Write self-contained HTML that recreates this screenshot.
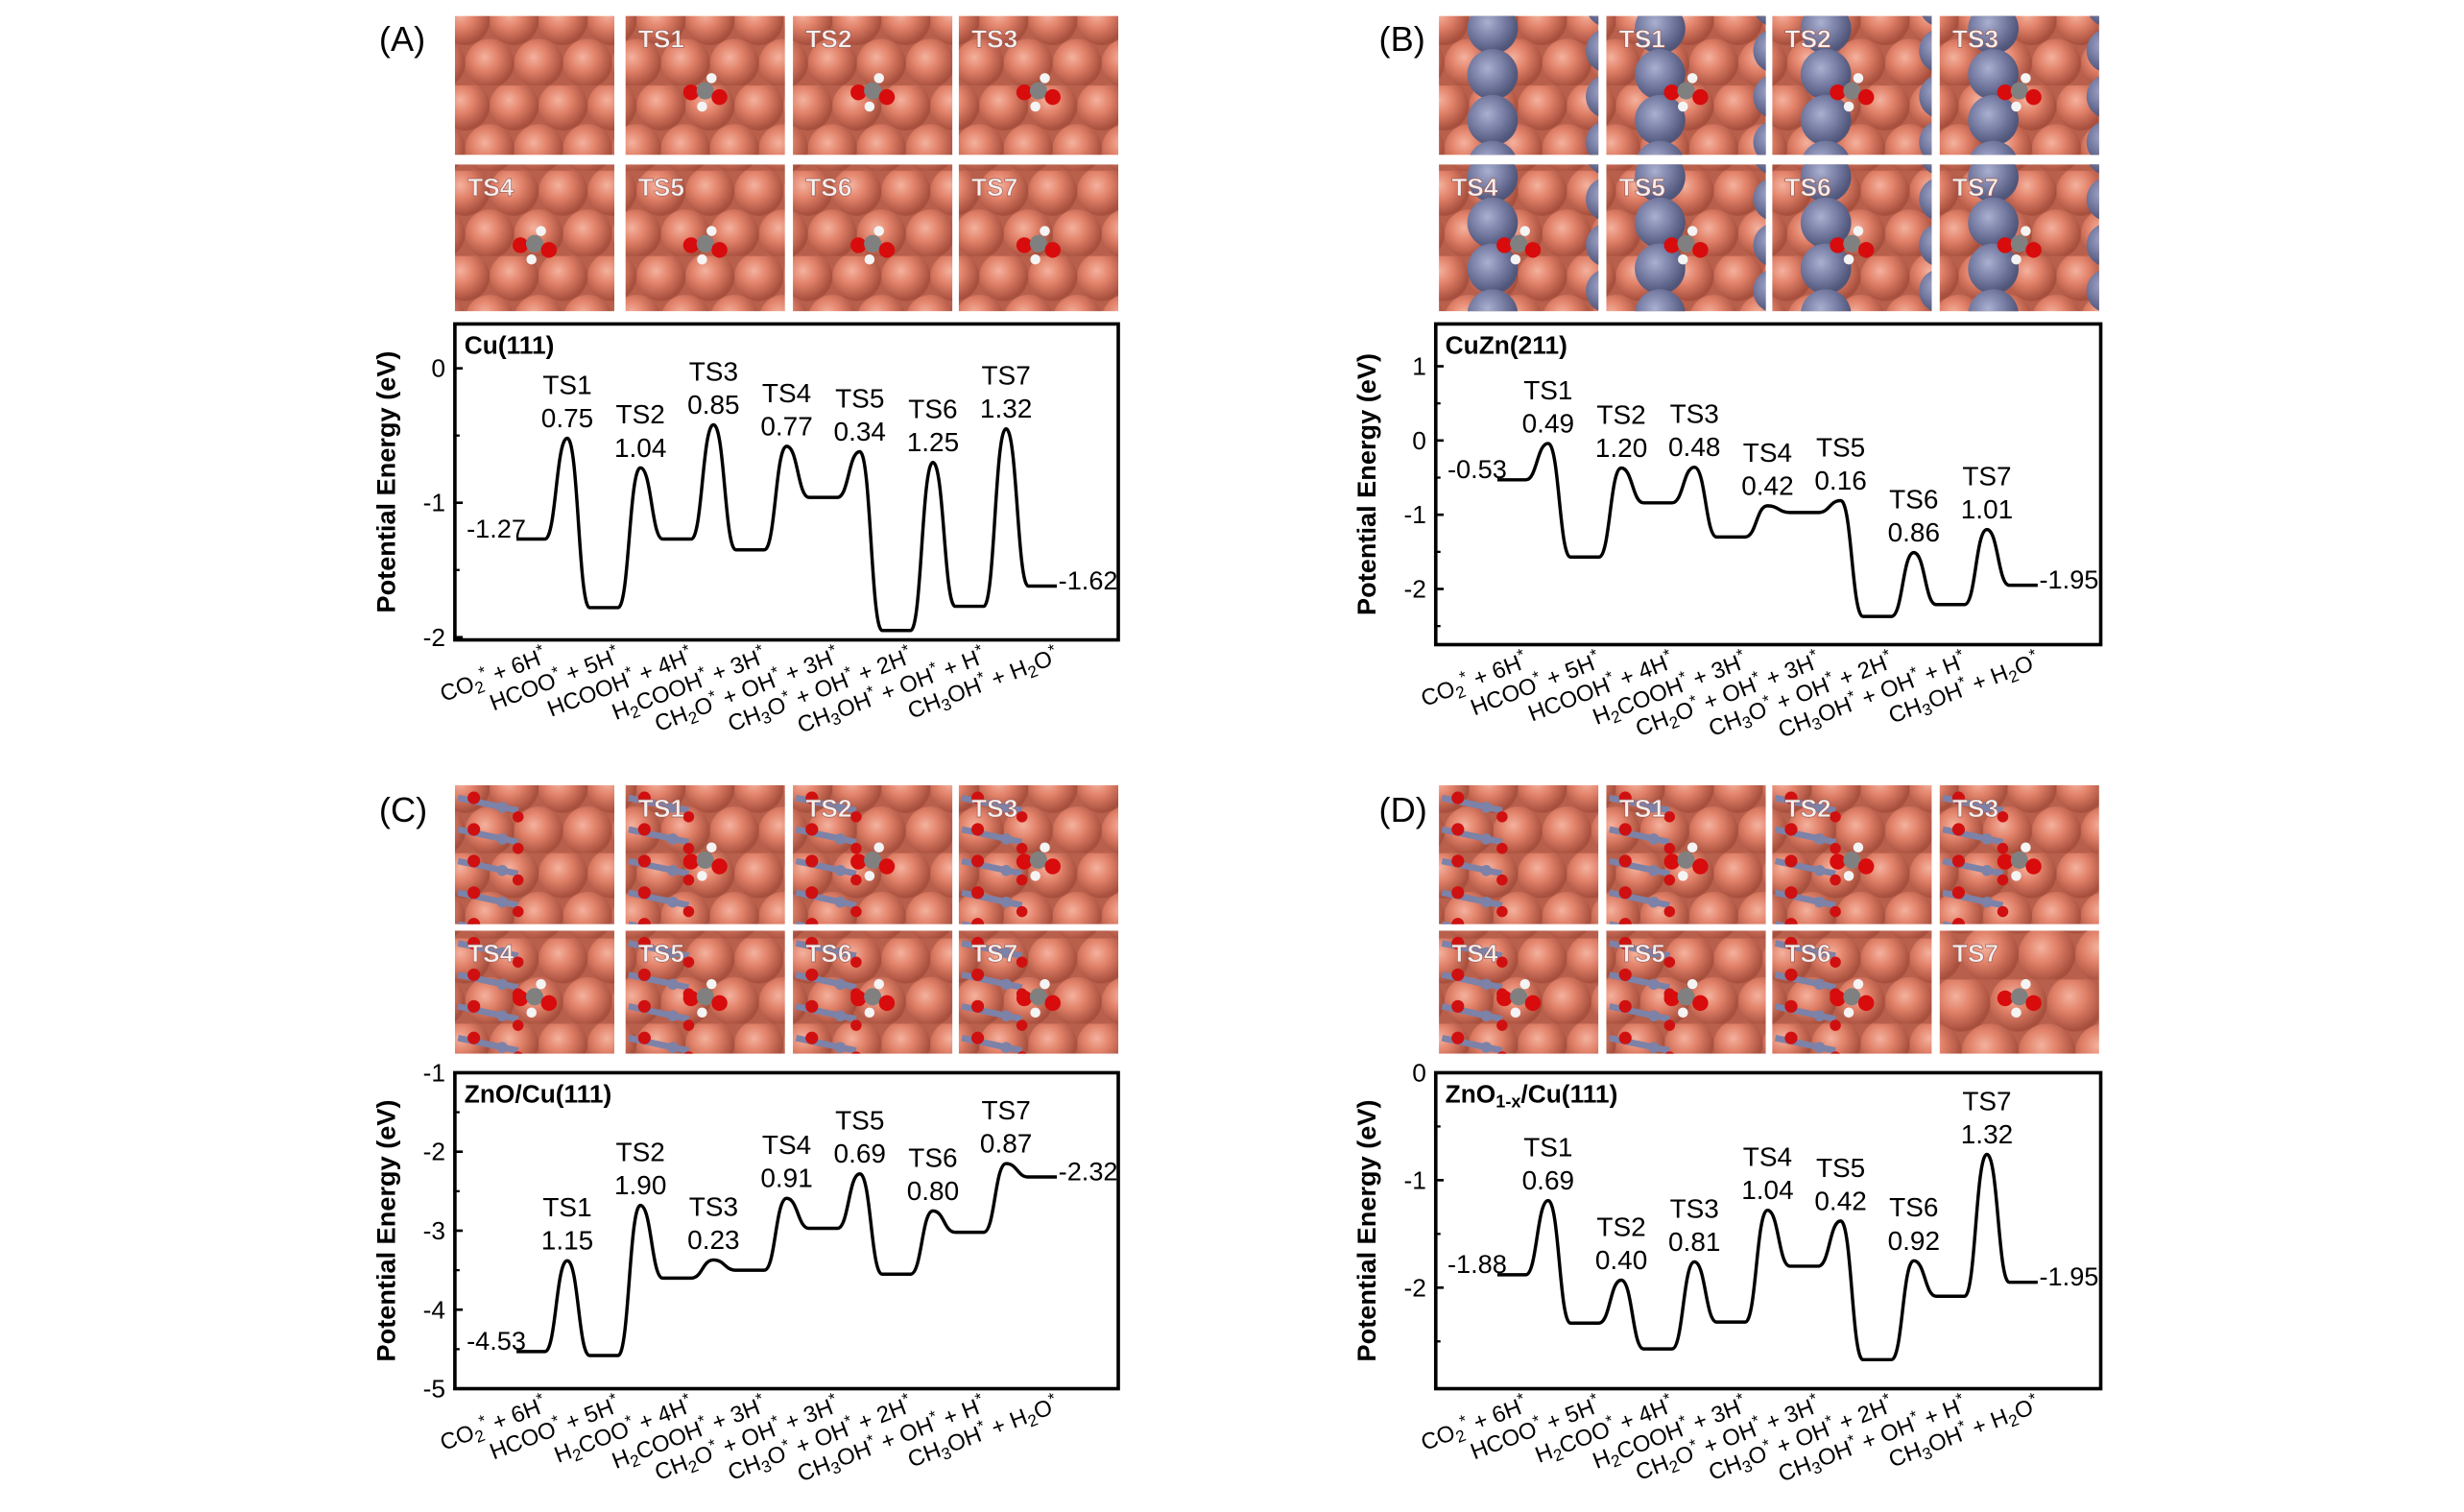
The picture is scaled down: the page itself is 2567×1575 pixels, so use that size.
<!DOCTYPE html>
<html><head><meta charset="utf-8"><style>
html,body{margin:0;padding:0;background:#fff;}
svg{display:block;}
text{font-family:"Liberation Sans",Arial,sans-serif;}
</style></head><body>
<svg id="fig" xmlns="http://www.w3.org/2000/svg" width="2567" height="1575" viewBox="0 0 1560 957">
<defs>
<radialGradient id="cu" cx="0.4" cy="0.38" r="0.6"><stop offset="0" stop-color="#f4b29e"/><stop offset="0.45" stop-color="#e2826a"/><stop offset="1" stop-color="#a8503e"/></radialGradient>
<radialGradient id="zn" cx="0.4" cy="0.38" r="0.6"><stop offset="0" stop-color="#aab0d0"/><stop offset="0.5" stop-color="#7c82a8"/><stop offset="1" stop-color="#50557a"/></radialGradient>
<pattern id="cuPat" patternUnits="userSpaceOnUse" width="31" height="54" x="0" y="0">
<rect width="31" height="54" fill="#b8604c"/>
<circle cx="15.5" cy="13" r="15.5" fill="url(#cu)"/>
<circle cx="0" cy="40" r="15.5" fill="url(#cu)"/>
<circle cx="31" cy="40" r="15.5" fill="url(#cu)"/>
</pattern>
<pattern id="cuPat2" patternUnits="userSpaceOnUse" width="36" height="62" x="0" y="0">
<rect width="36" height="62" fill="#b8604c"/>
<circle cx="18" cy="15" r="18" fill="url(#cu)"/>
<circle cx="0" cy="46" r="18" fill="url(#cu)"/>
<circle cx="36" cy="46" r="18" fill="url(#cu)"/>
</pattern>
</defs>
<g id="root"></g>
</svg>
<script>
// ---------- chart data ----------
const catsAB = ["CO_2^* + 6H^*","HCOO^* + 5H^*","HCOOH^* + 4H^*","H_2COOH^* + 3H^*","CH_2O^* + OH^* + 3H^*","CH_3O^* + OH^* + 2H^*","CH_3OH^* + OH^* + H^*","CH_3OH^* + H_2O^*"];
const catsCD = ["CO_2^* + 6H^*","HCOO^* + 5H^*","H_2COO^* + 4H^*","H_2COOH^* + 3H^*","CH_2O^* + OH^* + 3H^*","CH_3O^* + OH^* + 2H^*","CH_3OH^* + OH^* + H^*","CH_3OH^* + H_2O^*"];
const tsNames = ["TS1","TS2","TS3","TS4","TS5","TS6","TS7"];

const statesA = [-1.27,-1.78,-1.27,-1.35,-0.96,-1.95,-1.77,-1.62];
const barriersA = [0.75,1.04,0.85,0.77,0.34,1.25,1.32];
const ticksA = [0,-1,-2];
const minorA = [-0.5,-1.5];

const statesB = [-0.53,-1.57,-0.84,-1.30,-0.97,-2.37,-2.21,-1.95];
const barriersB = [0.49,1.20,0.48,0.42,0.16,0.86,1.01];
const ticksB = [1,0,-1,-2];
const minorB = [0.5,-0.5,-1.5,-2.5];

const statesC = [-4.53,-4.58,-3.60,-3.50,-2.97,-3.55,-3.02,-2.32];
const barriersC = [1.15,1.90,0.23,0.91,0.69,0.80,0.87];
const ticksC = [-1,-2,-3,-4,-5];
const minorC = [-1.5,-2.5,-3.5,-4.5];

const statesD = [-1.88,-2.33,-2.57,-2.32,-1.80,-2.67,-2.08,-1.95];
const barriersD = [0.69,0.40,0.81,1.04,0.42,0.92,1.32];
const ticksD = [0,-1,-2];
const minorD = [-0.5,-1.5,-2.5];

const NS = "http://www.w3.org/2000/svg";
const root = document.getElementById('root');
function el(tag, attrs, parent){
  const e = document.createElementNS(NS, tag);
  for (const k in attrs) e.setAttribute(k, attrs[k]);
  (parent||root).appendChild(e);
  return e;
}
function fmt(v){ return v.toFixed(2); }

function richText(t, str, size){
  let i=0, buf="";
  const flush=()=>{ if(buf){ const s=el('tspan',{},t); s.textContent=buf; buf=""; } };
  while(i<str.length){
    const c=str[i];
    if(c==='_'){ flush(); const s=el('tspan',{'baseline-shift':'-30%','font-size':size*0.72},t); s.textContent=str[i+1]; i+=2; }
    else if(c==='^'){ flush(); const s=el('tspan',{'baseline-shift':'55%','font-size':size*0.72},t); s.textContent=str[i+1]; i+=2; }
    else { buf+=c; i++; }
  }
  flush();
}

// ---------- tiles ----------
function drawTiles(letter, lx, ly, colX, rowY, rowH, kind){
  const g = el('g',{});
  
  
  const lab = el('text',{x:lx,y:ly,'font-size':22,'font-family':'"Liberation Serif",serif',fill:'#000'},g);
  
  
  lab.textContent='('+letter.toUpperCase()+')';
  let n=0;
  for(let r=0;r<2;r++){
    for(let c=0;c<4;c++){
      const x=colX[c], y=rowY[r], w=101, h=rowH[r];
      const tg = el('g',{},g);
      
      
      const cid='clip'+letter+n;
      const cp=el('clipPath',{id:cid},tg); el('rect',{x:x,y:y,width:w,height:h},cp);
      const inner=el('g',{'clip-path':'url(#'+cid+')'},tg);
      const big = (kind==='ts7big' && n===7);
      el('rect',{x:x,y:y,width:w,height:h,fill:big?'url(#cuPat2)':'url(#cuPat)'},inner);
      if(kind==='zn'){
        for(let k=-1;k<5;k++){
          el('circle',{cx:x+34,cy:y+8+k*29,r:16,fill:'url(#zn)'},inner);
          el('circle',{cx:x+w+6,cy:y+22+k*29,r:14,fill:'url(#zn)'},inner);
        }
      }
      if(kind==='zno' || (kind==='ts7big' && n<7)){
        for(let k=0;k<5;k++){
          const yy=y+8+k*20;
          el('line',{x1:x+2,y1:yy,x2:x+40,y2:yy+8,stroke:'#7c82a8','stroke-width':4},inner);
          el('circle',{cx:x+12,cy:yy,r:4,fill:'#d01010'},inner);
          el('circle',{cx:x+30,cy:yy+6,r:3.5,fill:'#7c82a8'},inner);
          el('circle',{cx:x+40,cy:yy+12,r:3.5,fill:'#d01010'},inner);
        }
      }
      if(n>0){
        const mx=x+w*0.5, my=y+h*0.55;
        el('circle',{cx:mx-9,cy:my,r:5,fill:'#d80c0c'},inner);
        el('circle',{cx:mx,cy:my-1,r:5.5,fill:'#808080'},inner);
        el('circle',{cx:mx+9,cy:my+3,r:5,fill:'#d80c0c'},inner);
        el('circle',{cx:mx+4,cy:my-9,r:3.2,fill:'#f4f4f4'},inner);
        el('circle',{cx:mx-2,cy:my+9,r:3.2,fill:'#f4f4f4'},inner);
        const tl=el('text',{x:x+8,y:y+20,'font-size':16,'font-weight':'bold',fill:'#f4f0f0',stroke:'#a05a50','stroke-width':0.4},tg);
        tl.textContent='TS'+n;
      }
      n++;
    }
  }
}

// ---------- energy profile ----------
function drawPanel(cfg){
  const {id,x0,x1,y0,y1,vmax,vmin,ticks,minor,states,barriers,cats,title} = cfg;
  const g = el('g',{});
  
  
  const yS = v => y0 + (vmax - v)/(vmax - vmin)*(y1 - y0);
  const xC = i => x0 + 48 + i*46.3;
  const hw = 9;
  const box = el('rect',{x:x0,y:y0,width:x1-x0,height:y1-y0,fill:'none',stroke:'#000','stroke-width':2.2},g);
  
  
  ticks.forEach(t=>{
    const yy=yS(t);
    el('line',{x1:x0-1,y1:yy,x2:x0+5,y2:yy,stroke:'#000','stroke-width':1.6},g);
    const tl=el('text',{x:x0-6,y:yy+5.5,'font-size':16,'text-anchor':'end',fill:'#000'},g);
    
    
    tl.textContent=String(t);
  });
  minor.forEach(t=>{
    const yy=yS(t);
    el('line',{x1:x0-1,y1:yy,x2:x0+3,y2:yy,stroke:'#000','stroke-width':1.4},g);
  });
  const cy=(y0+y1)/2;
  const yt=el('text',{x:x0-38,y:cy,'font-size':16.5,'font-weight':'bold','text-anchor':'middle',transform:'rotate(-90 '+(x0-38)+' '+cy+')',fill:'#000'},g);
  
  
  yt.textContent='Potential Energy (eV)';
  const tt=el('text',{x:x0+6,y:y0+19,'font-size':16,'font-weight':'bold',fill:'#000'},g);
  
  
  if(title==='ZnO1-x'){ const a=el('tspan',{},tt); a.textContent='ZnO'; const b=el('tspan',{'baseline-shift':'-30%','font-size':11},tt); b.textContent='1-x'; const c=el('tspan',{},tt); c.textContent='/Cu(111)'; }
  else tt.textContent=title;
  let d='M'+(xC(0)-hw)+' '+yS(states[0])+' L'+(xC(0)+hw)+' '+yS(states[0]);
  for(let i=0;i<barriers.length;i++){
    const xe=xC(i)+hw, xs=xC(i+1)-hw, xm=(xe+xs)/2, h=xm-xe;
    const ts=states[i]+barriers[i];
    d+=' C'+(xe+h*0.5)+' '+yS(states[i])+' '+(xm-h*0.5)+' '+yS(ts)+' '+xm+' '+yS(ts);
    d+=' C'+(xm+h*0.5)+' '+yS(ts)+' '+(xs-h*0.5)+' '+yS(states[i+1])+' '+xs+' '+yS(states[i+1]);
    d+=' L'+(xC(i+1)+hw)+' '+yS(states[i+1]);
    const nm=el('text',{x:xm,y:yS(ts)-28,'font-size':17,'text-anchor':'middle',fill:'#000'},g);
    
    
    nm.textContent=tsNames[i];
    const bv=el('text',{x:xm,y:yS(ts)-7,'font-size':17,'text-anchor':'middle',fill:'#000'},g);
    
    
    bv.textContent=fmt(barriers[i]);
  }
  const p=el('path',{d:d,fill:'none',stroke:'#000','stroke-width':2.1},g);
  
  
  const sl=el('text',{x:xC(0)-hw+6,y:yS(states[0])-1,'font-size':16.5,'text-anchor':'end',fill:'#000'},g);
  
  
  sl.textContent=fmt(states[0]);
  const last=states.length-1;
  const el2=el('text',{x:xC(last)+hw+1,y:yS(states[last])+2,'font-size':16.5,fill:'#000'},g);
  
  
  el2.textContent=fmt(states[last]);
  cats.forEach((c,i)=>{
    const ax=xC(i)+11, ay=y1+14;
    const t=el('text',{x:ax,y:ay,'font-size':14.5,'text-anchor':'end',transform:'rotate(-21 '+ax+' '+ay+')',fill:'#000'},g);
    
    
    richText(t,c,14.5);
  });
}

const colL=[288,396,502,607], colR=[911,1017,1122,1228];
drawTiles('a',240,32,colL,[10,104],[88,93],'cu');
drawTiles('b',873,32,colR,[10,104],[88,93],'zn');
drawTiles('c',240,520,colL,[497,589],[88,78],'zno');
drawTiles('d',873,520,colR,[497,589],[88,78],'ts7big');

drawPanel({id:'cu111',x0:288,x1:708,y0:205,y1:405,vmax:0.33,vmin:-2.02,ticks:ticksA,minor:minorA,states:statesA,barriers:barriersA,cats:catsAB,title:'Cu(111)'});
drawPanel({id:'cuzn211',x0:909,x1:1330,y0:205,y1:408,vmax:1.57,vmin:-2.75,ticks:ticksB,minor:minorB,states:statesB,barriers:barriersB,cats:catsAB,title:'CuZn(211)'});
drawPanel({id:'zno-cu111',x0:288,x1:708,y0:679,y1:879,vmax:-1,vmin:-5,ticks:ticksC,minor:minorC,states:statesC,barriers:barriersC,cats:catsCD,title:'ZnO/Cu(111)'});
drawPanel({id:'zno1x-cu111',x0:909,x1:1330,y0:679,y1:879,vmax:0,vmin:-2.94,ticks:ticksD,minor:minorD,states:statesD,barriers:barriersD,cats:catsCD,title:'ZnO1-x'});
</script>
</body></html>
